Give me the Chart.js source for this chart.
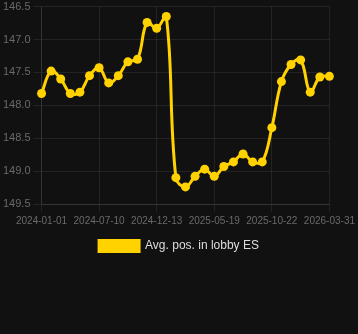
<!DOCTYPE html>
<html>
<head>
<meta charset="utf-8">
<script src="https://cdn.jsdelivr.net/npm/chart.js@4.4.0/dist/chart.umd.min.js"></script>
<style>
  html, body { margin: 0; padding: 0; background: #111111; }
  #wrap { width: 358px; height: 265px; position: relative; margin-top: -3px; }
</style>
</head>
<body>
<div id="wrap"><canvas id="positionChart"></canvas></div>
<script>
let dates = [
  '2024-01-01', '2024-02-02', '2024-03-05', '2024-04-06', '2024-05-08', '2024-06-09',
  '2024-07-10', '2024-08-05', '2024-08-31', '2024-09-26', '2024-10-22', '2024-11-17',
  '2024-12-13', '2025-01-08', '2025-02-03', '2025-03-01', '2025-03-27', '2025-04-23',
  '2025-05-19', '2025-06-14', '2025-07-10', '2025-08-05', '2025-08-31', '2025-09-26',
  '2025-10-22', '2025-11-18', '2025-12-15', '2026-01-11', '2026-02-07', '2026-03-05',
  '2026-03-31'
];

let avgPosition = [
  147.82, 147.48, 147.60, 147.82, 147.80, 147.55,
  147.43, 147.66, 147.55, 147.34, 147.30, 146.74,
  146.83, 146.65, 149.10, 149.24, 149.08, 148.97,
  149.08, 148.93, 148.86, 148.74, 148.86, 148.86,
  148.34, 147.64, 147.38, 147.31, 147.80, 147.57,
  147.56
];

let seriesName = 'Avg. pos. in lobby ES';
let yTicks = [146.5, 147.0, 147.5, 148.0, 148.5, 149.0, 149.5];

let gold = '#ffd200';
let gridColor = 'rgba(255,255,255,0.08)';

let chart = new Chart(document.querySelector('#positionChart'), {
  type: 'line',
  data: {
    labels: dates,
    datasets: [{
      label: seriesName,
      data: avgPosition,
      borderColor: gold,
      backgroundColor: gold,
      borderWidth: 3,
      pointRadius: 4.5,
      pointBackgroundColor: gold,
      pointBorderWidth: 0,
      tension: 0.4
    }]
  },
  options: {
    maintainAspectRatio: false,
    animation: false,
    layout: { autoPadding: false },
    plugins: {
      legend: {
        position: 'bottom',
        labels: {
          color: '#dddddd',
          font: { size: 12 },
          boxWidth: 40,
          boxHeight: 11
        }
      },
      tooltip: { enabled: false }
    },
    scales: {
      x: {
        grid: { color: gridColor },
        border: { color: gridColor },
        ticks: {
          color: '#6a6a6a',
          font: { size: 10 },
          autoSkip: false,
          maxRotation: 0,
          callback: function (value, i) {
            return i % 6 === 0 ? dates[i] : null;
          }
        }
      },
      y: {
        reverse: true,
        min: yTicks[0],
        max: yTicks[yTicks.length - 1],
        grid: { color: gridColor },
        border: { color: gridColor },
        afterBuildTicks: function (axis) {
          axis.ticks = yTicks.map(function (v) { return { value: v }; });
        },
        ticks: {
          color: '#6a6a6a',
          font: { size: 11 },
          callback: function (value) {
            return Number(value).toFixed(1);
          }
        }
      }
    }
  }
});
</script>
</body>
</html>
